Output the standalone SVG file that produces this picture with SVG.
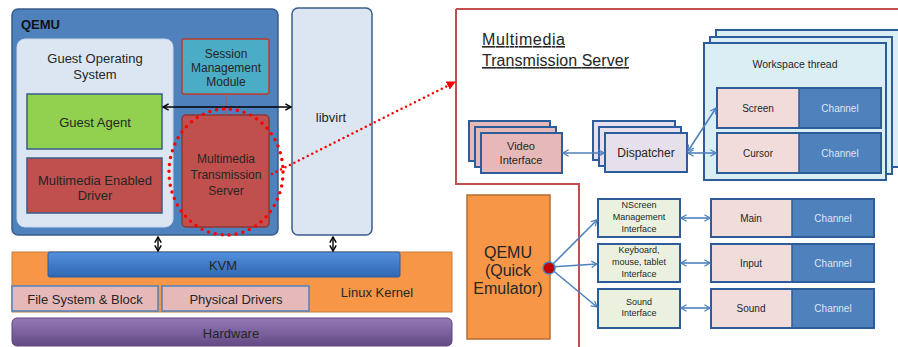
<svg xmlns="http://www.w3.org/2000/svg" width="898" height="347" viewBox="0 0 898 347">
<style>
text{font-family:"Liberation Sans","Noto Sans",Arial,sans-serif;fill:#262626;text-anchor:middle}
.t13{font-size:13px}
.t12{font-size:12px}
.t11{font-size:11px}
.t10{font-size:10px}
.t9{font-size:9px}
.w{fill:#dce6f2}
.pg{stroke:#2c5d9a;stroke-width:2}
.blue{fill:none;stroke:#4f81bd;stroke-width:1.6}
</style>
<defs>
<linearGradient id="kvm" x1="0" y1="0" x2="0" y2="1"><stop offset="0" stop-color="#5490dc"/><stop offset="1" stop-color="#2f67b2"/></linearGradient>
<linearGradient id="hw" x1="0" y1="0" x2="0" y2="1"><stop offset="0" stop-color="#9579b8"/><stop offset="1" stop-color="#634a84"/></linearGradient>
<marker id="ab" viewBox="0 0 10 10" refX="9" refY="5" markerWidth="8" markerHeight="8" orient="auto-start-reverse" markerUnits="userSpaceOnUse"><path d="M2,1 L9,5 L2,9" fill="none" stroke="#4f81bd" stroke-width="1.6"/></marker>
<marker id="ak" viewBox="0 0 10 10" refX="9" refY="5" markerWidth="8" markerHeight="8" orient="auto-start-reverse" markerUnits="userSpaceOnUse"><path d="M2,1 L9,5 L2,9" fill="none" stroke="#000" stroke-width="1.8"/></marker>
<marker id="ar" viewBox="0 0 10 10" refX="9" refY="5" markerWidth="9" markerHeight="9" orient="auto" markerUnits="userSpaceOnUse"><path d="M0,0 L10,5 L0,10 Z" fill="#ff0000"/></marker>
</defs>

<!-- right red frame -->
<path d="M456,9 H898 M456,9 V184 H579 V347" fill="none" stroke="#c0504d" stroke-width="2"/>

<g id="qemu">
<rect x="12" y="9" width="266" height="226" rx="6" fill="#4f81bd" stroke="#385d8a" stroke-width="1.5"/>
<text x="21" y="29" style="font-size:13px;font-weight:bold;text-anchor:start;fill:#111">QEMU</text>
</g>
<g id="guest-os">
<rect x="17" y="39" width="156" height="188" rx="8" fill="#dce6f2" stroke="#c6d5ea"/>
<text class="t13" x="95" y="63">Guest Operating</text>
<text class="t13" x="95" y="79">System</text>
</g>
<g id="guest-agent">
<rect x="27" y="94" width="135" height="55" fill="#92d050" stroke="#385d8a" stroke-width="1.5"/>
<text class="t13" x="95" y="127">Guest Agent</text>
</g>
<g id="mm-driver">
<rect x="27" y="158" width="135" height="55" fill="#c0504d" stroke="#385d8a" stroke-width="1.5"/>
<text class="t13" x="95" y="185">Multimedia Enabled</text>
<text class="t13" x="95" y="200">Driver</text>
</g>
<g id="session">
<rect x="182" y="39" width="87" height="55" rx="2" fill="#4bacc6" stroke="#c0392b" stroke-width="1.5"/>
<text class="t12" x="226" y="58">Session</text>
<text class="t12" x="226" y="72">Management</text>
<text class="t12" x="226" y="86">Module</text>
</g>
<g id="mts">
<rect x="182" y="115" width="87" height="112" rx="4" fill="#c0504d" stroke="#8c3836" stroke-width="1.5"/>
<text class="t12" x="226" y="163">Multimedia</text>
<text class="t12" x="226" y="179">Transmission</text>
<text class="t12" x="226" y="195">Server</text>
</g>
<g id="libvirt">
<rect x="292" y="8" width="80" height="227" rx="6" fill="#dce6f2" stroke="#385d8a" stroke-width="1.5"/>
<text class="t13" x="331" y="122">libvirt</text>
</g>
<g id="linux-kernel">
<rect x="12" y="252" width="440" height="60" fill="#f79646" stroke="#c77c3e"/>
<text class="t13" x="377" y="297">Linux Kernel</text>
</g>
<g id="kvm">
<rect x="48" y="252" width="352" height="25" rx="2" fill="url(#kvm)" stroke="#2c5d9a"/>
<text class="t13" x="223" y="270">KVM</text>
</g>
<g id="fs-block">
<rect x="12" y="286" width="146" height="25" fill="#e6b9b8" stroke="#4f81bd" stroke-width="1.5"/>
<text class="t13" x="85" y="304">File System &amp; Block</text>
</g>
<g id="phys-drivers">
<rect x="162" y="286" width="147" height="25" fill="#e6b9b8" stroke="#4f81bd" stroke-width="1.5"/>
<text class="t13" x="236" y="304">Physical Drivers</text>
</g>
<g id="hardware">
<rect x="12" y="318" width="440" height="28" rx="5" fill="url(#hw)" stroke="#5f497a"/>
<text class="t13" x="231" y="338">Hardware</text>
</g>

<!-- right side -->
<g id="mts-title">
<text x="482" y="45" style="font-size:16px;text-anchor:start;text-decoration:underline" textLength="83">Multimedia</text>
<text x="482" y="66" style="font-size:16px;text-anchor:start;text-decoration:underline" textLength="147">Transmission  Server</text>
</g>
<g id="video-interface">
<rect class="pg" x="469" y="121" width="81" height="40" fill="#e6b9b8"/>
<rect class="pg" x="475" y="127" width="81" height="40" fill="#e6b9b8"/>
<rect class="pg" x="481" y="133" width="81" height="40" fill="#e6b9b8"/>
<text class="t11" x="521" y="150">Video</text>
<text class="t11" x="521" y="164">Interface</text>
</g>
<g id="dispatcher">
<rect class="pg" x="593" y="121" width="82" height="39" fill="#e5e0ec"/>
<rect class="pg" x="599" y="127" width="82" height="39" fill="#e5e0ec"/>
<rect class="pg" x="605" y="133" width="82" height="39" fill="#e5e0ec"/>
<text class="t12" x="646" y="157">Dispatcher</text>
</g>
<g id="workspace">
<rect class="pg" x="716" y="30" width="184" height="137" fill="#dbeef4"/>
<rect class="pg" x="710" y="37" width="182" height="137" fill="#dbeef4"/>
<rect class="pg" x="704" y="43" width="182" height="137" fill="#dbeef4"/>
<text x="795" y="68" style="font-size:10.5px">Workspace thread</text>
</g>
<g id="screen">
<rect x="717" y="88" width="82" height="40" fill="#f2dcdb"/>
<rect x="799" y="88" width="82" height="40" fill="#4f81bd"/>
<rect class="pg" x="717" y="88" width="164" height="40" fill="none"/>
<line x1="799" y1="88" x2="799" y2="128" stroke="#2c5d9a" stroke-width="1.5"/>
<text class="t10" x="758" y="112">Screen</text>
<text class="t10 w" x="840" y="112">Channel</text>
</g>
<g id="cursor">
<rect x="717" y="133" width="82" height="40" fill="#f2dcdb"/>
<rect x="799" y="133" width="82" height="40" fill="#4f81bd"/>
<rect class="pg" x="717" y="133" width="164" height="40" fill="none"/>
<line x1="799" y1="133" x2="799" y2="173" stroke="#2c5d9a" stroke-width="1.5"/>
<text class="t10" x="758" y="157">Cursor</text>
<text class="t10 w" x="840" y="157">Channel</text>
</g>
<g id="qemu-emulator">
<rect x="467" y="195" width="83" height="144" fill="#f79646" stroke="#b66d31" stroke-width="1.5"/>
<text x="508" y="258" style="font-size:16px">QEMU</text>
<text x="508" y="276" style="font-size:16px">(Quick</text>
<text x="508" y="294" style="font-size:16px">Emulator)</text>
</g>
<g id="nscreen">
<rect class="pg" x="598" y="199" width="82" height="38" fill="#ebf1de"/>
<text class="t9" x="639" y="208">NScreen</text>
<text class="t9" x="639" y="220">Management</text>
<text class="t9" x="639" y="232">Interface</text>
</g>
<g id="keyboard">
<rect class="pg" x="598" y="244" width="82" height="38" fill="#ebf1de"/>
<text class="t9" x="639" y="253">Keyboard,</text>
<text class="t9" x="639" y="265">mouse, tablet</text>
<text class="t9" x="639" y="277">Interface</text>
</g>
<g id="sound-if">
<rect class="pg" x="598" y="289" width="82" height="39" fill="#ebf1de"/>
<text class="t9" x="639" y="305">Sound</text>
<text class="t9" x="639" y="316">Interface</text>
</g>
<g id="main">
<rect x="711" y="199" width="81" height="38" fill="#f2dcdb"/>
<rect x="792" y="199" width="82" height="38" fill="#4f81bd"/>
<rect class="pg" x="711" y="199" width="163" height="38" fill="none"/>
<line x1="792" y1="199" x2="792" y2="237" stroke="#2c5d9a" stroke-width="1.5"/>
<text class="t10" x="751" y="222">Main</text>
<text class="t10 w" x="833" y="222">Channel</text>
</g>
<g id="input">
<rect x="711" y="244" width="81" height="38" fill="#f2dcdb"/>
<rect x="792" y="244" width="82" height="38" fill="#4f81bd"/>
<rect class="pg" x="711" y="244" width="163" height="38" fill="none"/>
<line x1="792" y1="244" x2="792" y2="282" stroke="#2c5d9a" stroke-width="1.5"/>
<text class="t10" x="751" y="267">Input</text>
<text class="t10 w" x="833" y="267">Channel</text>
</g>
<g id="sound">
<rect x="711" y="289" width="81" height="39" fill="#f2dcdb"/>
<rect x="792" y="289" width="82" height="39" fill="#4f81bd"/>
<rect class="pg" x="711" y="289" width="163" height="39" fill="none"/>
<line x1="792" y1="289" x2="792" y2="328" stroke="#2c5d9a" stroke-width="1.5"/>
<text class="t10" x="751" y="312">Sound</text>
<text class="t10 w" x="833" y="312">Channel</text>
</g>

<g id="connectors">
<line x1="226" y1="94" x2="226" y2="115" stroke="#c0504d" stroke-width="1"/>
<line x1="163" y1="107" x2="291" y2="107" stroke="#000" stroke-width="1.6" marker-start="url(#ak)" marker-end="url(#ak)"/>
<line x1="158" y1="237" x2="158" y2="251" stroke="#000" stroke-width="1.4" marker-start="url(#ak)" marker-end="url(#ak)"/>
<line x1="333" y1="237" x2="333" y2="251" stroke="#000" stroke-width="1.4" marker-start="url(#ak)" marker-end="url(#ak)"/>
<ellipse cx="226" cy="172" rx="57" ry="63" fill="none" stroke="#ff0000" stroke-width="3.5" stroke-linecap="round" stroke-dasharray="0 7"/>
<line x1="272" y1="174" x2="455" y2="82" stroke="#ff0000" stroke-width="2.5" stroke-linecap="round" stroke-dasharray="0 5" marker-end="url(#ar)"/>
<line class="blue" x1="563" y1="153" x2="604" y2="153" marker-start="url(#ab)" marker-end="url(#ab)"/>
<line class="blue" x1="688" y1="151" x2="716" y2="108" marker-start="url(#ab)" marker-end="url(#ab)"/>
<line class="blue" x1="688" y1="153" x2="716" y2="153" marker-start="url(#ab)" marker-end="url(#ab)"/>
<line class="blue" x1="550" y1="267" x2="597" y2="220" marker-end="url(#ab)"/>
<line class="blue" x1="550" y1="267" x2="597" y2="264" marker-end="url(#ab)"/>
<line class="blue" x1="550" y1="268" x2="597" y2="307" marker-end="url(#ab)"/>
<line class="blue" x1="681" y1="218" x2="710" y2="218" marker-start="url(#ab)" marker-end="url(#ab)"/>
<line class="blue" x1="681" y1="263" x2="710" y2="263" marker-start="url(#ab)" marker-end="url(#ab)"/>
<line class="blue" x1="681" y1="308" x2="710" y2="308" marker-start="url(#ab)" marker-end="url(#ab)"/>
<circle cx="549" cy="268" r="6" fill="#c00000" stroke="#4f81bd" stroke-width="1.5"/>
</g>
</svg>
